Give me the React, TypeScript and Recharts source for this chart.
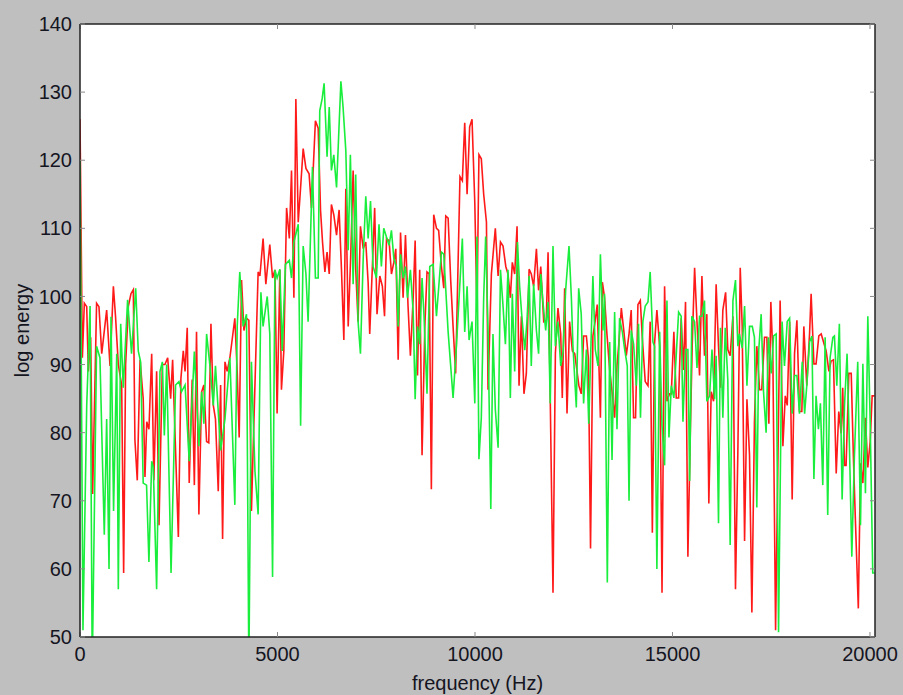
import { CartesianGrid, Line, LineChart, XAxis, YAxis } from "recharts"

// [frequency (Hz), log energy], vertex by vertex
const RED: [number, number][] = [
  [0, 126], [60, 91], [110, 99], [170, 98.5], [210, 89], [270, 94], [320, 71], [420, 99], [480, 98.5], [550, 91.6],
  [675, 98], [760, 89.8], [845, 101.5], [900, 97], [970, 90], [1055, 87], [1105, 59.4], [1155, 90], [1225, 98.6], [1290, 100.4],
  [1350, 101], [1390, 79], [1450, 73], [1520, 90.7], [1600, 85], [1645, 73.5], [1690, 81.6], [1745, 80.5], [1815, 91.6], [1870, 73],
  [1940, 89], [2000, 66.4], [2085, 90], [2150, 90], [2220, 91], [2295, 85], [2345, 90.7], [2490, 64.7], [2555, 88], [2615, 92],
  [2660, 89], [2715, 95.4], [2765, 72.6], [2840, 87.8], [2895, 72.3], [2950, 94.8], [3010, 68], [3080, 86], [3135, 87], [3205, 78.7],
  [3260, 78.5], [3315, 96], [3375, 84], [3430, 82], [3500, 71.4], [3560, 87], [3610, 64.4], [3670, 90.4], [3725, 89], [3795, 91],
  [3920, 96.8], [3980, 89], [4030, 79.3], [4090, 102.4], [4150, 95], [4215, 96.8], [4275, 96.5], [4340, 68.5], [4400, 81], [4510, 103.6],
  [4555, 103], [4635, 108.5], [4705, 101.8], [4805, 107.6], [4875, 102.7], [4935, 103.9], [4990, 82.8], [5060, 103.9], [5100, 86.3], [5160, 92],
  [5230, 113], [5300, 108.5], [5355, 118.5], [5415, 99.8], [5465, 129], [5525, 110.9], [5585, 116], [5650, 121.7], [5720, 118.8], [5800, 118],
  [5860, 113], [5960, 125.8], [6030, 124.7], [6090, 112.6], [6140, 108], [6200, 103.6], [6255, 106.5], [6310, 103.3], [6365, 113.5], [6425, 112],
  [6495, 109], [6560, 112.7], [6620, 103.9], [6680, 93.6], [6730, 115.8], [6790, 95.6], [6855, 106.2], [6915, 118.5], [6980, 104], [7040, 96.3],
  [7100, 110.3], [7170, 107], [7235, 108], [7295, 102], [7335, 94.5], [7460, 113], [7520, 97.4], [7590, 103], [7655, 101.5], [7710, 97.1],
  [7760, 108.5], [7825, 108.2], [7885, 103.3], [7945, 105], [7995, 107], [8055, 90.7], [8115, 109.4], [8180, 99.8], [8240, 109], [8305, 98.6],
  [8365, 91.3], [8435, 99.8], [8485, 108.2], [8545, 88.4], [8600, 103.9], [8660, 76.7], [8730, 95.6], [8785, 103.6], [8840, 103.3], [8895, 71.7],
  [8955, 112], [9025, 110], [9080, 109.7], [9150, 104.4], [9210, 101.2], [9260, 111.8], [9320, 111.5], [9385, 102.4], [9445, 95.6], [9510, 88.7],
  [9570, 104.4], [9620, 117.6], [9680, 117], [9740, 125.5], [9800, 115], [9865, 124.9], [9925, 126], [9995, 113.8], [10050, 97.7], [10100, 120.8],
  [10160, 120.2], [10220, 115], [10290, 110.9], [10330, 86.3], [10415, 103.3], [10515, 110], [10585, 103], [10645, 108], [10710, 107.4], [10780, 104.4],
  [10835, 103.3], [10895, 99.8], [10945, 105], [11005, 103.3], [11065, 110.3], [11115, 86.9], [11175, 97.1], [11240, 85.7], [11300, 88.7], [11370, 104],
  [11425, 103.3], [11485, 101.5], [11555, 107], [11610, 100.9], [11665, 104.4], [11740, 96.3], [11805, 96.5], [11850, 106.5], [11905, 85.1], [11975, 56.5],
  [12035, 91.6], [12100, 98.3], [12170, 94.5], [12210, 85.1], [12270, 101.2], [12330, 82.8], [12395, 96.3], [12465, 92], [12525, 91.6], [12565, 89.8],
  [12630, 86.9], [12690, 85.7], [12750, 94.2], [12820, 94.2], [12870, 91], [12925, 63], [12985, 94.2], [13045, 96.5], [13095, 98.8], [13175, 82.2],
  [13225, 102.1], [13280, 99.8], [13340, 94.5], [13410, 89.2], [13470, 86], [13535, 82.2], [13595, 89.8], [13645, 93.3], [13705, 98.3], [13765, 95.1],
  [13830, 91.3], [13900, 94.5], [13955, 98], [14015, 82.2], [14065, 82.2], [14125, 98.8], [14185, 99.4], [14235, 94], [14310, 87.5], [14380, 86.9],
  [14435, 96.3], [14490, 65.3], [14545, 93], [14605, 98], [14675, 92.7], [14735, 56.5], [14800, 101.5], [14860, 84.6], [14925, 85.7], [14970, 85.7],
  [15035, 94.8], [15095, 85.1], [15155, 85.1], [15220, 96.8], [15280, 89.2], [15330, 99.2], [15390, 61.8], [15450, 79.6], [15500, 93], [15560, 104.2],
  [15620, 96.3], [15685, 88.4], [15745, 103], [15810, 91.3], [15870, 97.4], [15920, 69.6], [15980, 86], [16040, 84.6], [16105, 101.8], [16165, 92.7],
  [16215, 86.6], [16275, 98], [16345, 100.6], [16400, 92.2], [16460, 91.3], [16530, 97.1], [16595, 57], [16655, 77.2], [16715, 104.2], [16765, 95.6],
  [16825, 64.1], [16885, 84.9], [16950, 76.7], [17010, 53.6], [17075, 81.6], [17135, 92.7], [17205, 86.3], [17260, 86.3], [17330, 94], [17390, 94],
  [17440, 81.3], [17490, 99.2], [17540, 91.6], [17610, 51], [17725, 99.4], [17795, 78], [17855, 85.4], [17905, 84], [17965, 96.3], [18030, 70.2],
  [18090, 91.6], [18150, 96.5], [18215, 83.1], [18275, 83.1], [18325, 95.6], [18400, 86.9], [18470, 94.5], [18510, 100.4], [18580, 90.1], [18635, 90.1],
  [18705, 94.2], [18765, 94.5], [18890, 92], [18960, 89], [19015, 90.5], [19075, 90.7], [19145, 74], [19210, 83.1], [19270, 79.9], [19310, 86.6],
  [19355, 75.2], [19395, 75.2], [19465, 88.7], [19525, 88.7], [19580, 76.4], [19630, 67.3], [19705, 54.2], [19760, 75.5], [19820, 72.6], [19885, 82.2],
  [19945, 74.9], [20005, 78.7], [20055, 85.4], [20115, 85.4],
]

const GREEN: [number, number][] = [
  [0, 120], [75, 51], [170, 84], [255, 98.6], [310, 45], [420, 92.7], [505, 91], [615, 65], [675, 82], [735, 60],
  [785, 97], [850, 68.5], [930, 91.6], [970, 57], [1030, 96], [1095, 86.6], [1205, 99.5], [1305, 91.6], [1410, 101.2], [1475, 92],
  [1535, 90.4], [1600, 72.6], [1685, 72.3], [1745, 61], [1815, 75.8], [1855, 75], [1940, 57], [2025, 89], [2085, 90.4], [2135, 79.6],
  [2195, 90], [2305, 59.4], [2420, 87], [2505, 87.5], [2570, 86], [2660, 87], [2765, 75.8], [2895, 91.9], [3010, 78], [3080, 86],
  [3135, 81.3], [3205, 94.5], [3290, 89.8], [3375, 84], [3430, 89.8], [3560, 77.4], [3670, 82], [3795, 91], [3920, 69.4], [3980, 95.6],
  [4045, 103.6], [4130, 95.6], [4215, 97.4], [4275, 45], [4340, 90.4], [4430, 74.3], [4510, 68], [4580, 100.6], [4635, 95.6], [4740, 100],
  [4805, 94.5], [4875, 58.8], [4935, 103.9], [4990, 102.7], [5060, 104], [5120, 92], [5200, 104.7], [5300, 105.3], [5355, 102.7], [5415, 108],
  [5525, 110.6], [5585, 81], [5650, 107.4], [5720, 103.3], [5775, 96.3], [5885, 119], [5960, 102.7], [6030, 102.7], [6070, 127.3], [6130, 129],
  [6180, 131.3], [6255, 120.5], [6310, 127.8], [6365, 118.5], [6425, 120.8], [6495, 116], [6605, 131.6], [6660, 127.8], [6730, 121.4], [6790, 106.8],
  [6845, 120.8], [6915, 101.8], [6980, 117.9], [7040, 96.3], [7100, 91.6], [7170, 105.6], [7235, 114.7], [7295, 108.5], [7355, 114], [7420, 104.4],
  [7505, 102.7], [7570, 110.6], [7630, 104.4], [7690, 110], [7755, 108.8], [7825, 107.5], [7885, 109.7], [7945, 105.6], [8010, 104.4], [8055, 95.6],
  [8115, 106.2], [8180, 102.7], [8240, 104.4], [8290, 99.8], [8365, 103.9], [8435, 97.7], [8485, 84.9], [8545, 95.6], [8600, 93], [8660, 102.7],
  [8710, 97.1], [8785, 85.7], [8855, 104.4], [8940, 104.7], [9025, 97.1], [9150, 106.5], [9210, 106.2], [9320, 94.8], [9445, 85.1], [9530, 92.7],
  [9680, 108.5], [9740, 94.8], [9800, 101.5], [9850, 93.6], [9925, 96.3], [9995, 84.3], [10050, 108.8], [10100, 76.1], [10160, 82.2], [10220, 99.8],
  [10270, 108.8], [10330, 95], [10400, 68.8], [10455, 94.5], [10515, 83.4], [10585, 77.8], [10645, 103.9], [10710, 98.6], [10770, 93], [10835, 103.9],
  [10895, 85.1], [10945, 100.4], [11005, 89], [11075, 108], [11130, 101.5], [11190, 96.8], [11260, 92.1], [11315, 96.3], [11370, 103], [11425, 89.8],
  [11485, 101.8], [11555, 95], [11610, 91.6], [11665, 103.3], [11720, 99.2], [11790, 95], [11850, 99.2], [11905, 84.3], [11975, 107.4], [12035, 92.7],
  [12100, 96.3], [12170, 89.8], [12230, 91.9], [12295, 100.9], [12380, 107.4], [12440, 99.8], [12480, 92.7], [12565, 83.7], [12625, 101.2], [12690, 97.4],
  [12750, 84.3], [12820, 92.2], [12880, 81.3], [12985, 103], [13045, 92.2], [13115, 89.8], [13175, 106.2], [13240, 95], [13280, 100.4], [13350, 58],
  [13410, 93.3], [13470, 76], [13535, 97.7], [13595, 80.5], [13660, 96.8], [13730, 94.8], [13790, 92.2], [13855, 89.8], [13900, 70], [13955, 95],
  [14015, 93], [14085, 86.9], [14140, 96], [14190, 82.2], [14250, 96.3], [14310, 98.6], [14380, 99.2], [14435, 103.6], [14505, 93.3], [14545, 92.7],
  [14605, 60], [14675, 94.8], [14735, 81], [14800, 75.2], [14860, 99.4], [14910, 79.3], [14970, 86.9], [15035, 85.1], [15155, 97.7], [15220, 97.1],
  [15265, 81.6], [15330, 92.2], [15390, 92.2], [15435, 72.9], [15490, 97.1], [15560, 96.3], [15620, 89.5], [15685, 97.1], [15745, 97.1], [15810, 99.4],
  [15870, 84.6], [15940, 85.4], [16000, 92.2], [16065, 84.9], [16105, 91.3], [16165, 66.7], [16215, 95.4], [16275, 82.2], [16335, 95.4], [16400, 87.8],
  [16460, 63.5], [16530, 99.4], [16595, 102.4], [16655, 92.7], [16695, 94.5], [16765, 92.4], [16825, 98.6], [16885, 86.9], [16950, 95.6], [17020, 95.6],
  [17075, 94], [17135, 69], [17185, 92.2], [17245, 97.4], [17305, 86], [17370, 80], [17430, 94], [17500, 88.7], [17560, 94.2], [17625, 94.5],
  [17685, 50.7], [17775, 96.3], [17835, 89.8], [17905, 96.3], [17965, 96.8], [18030, 82.8], [18090, 88.4], [18150, 88.4], [18215, 82.8], [18285, 90.4],
  [18345, 82.8], [18400, 86.9], [18470, 93.3], [18530, 94.2], [18580, 73.2], [18635, 85.4], [18695, 80.5], [18745, 84.3], [18805, 72.3], [18865, 94],
  [18930, 67.9], [18990, 91], [19060, 94], [19100, 94.2], [19160, 86.9], [19225, 96], [19295, 70.2], [19355, 84], [19420, 91.6], [19480, 78],
  [19540, 61.8], [19605, 76.4], [19690, 90.4], [19760, 66.4], [19820, 90.1], [19885, 71.1], [19945, 97.1], [20005, 81.6], [20070, 59.4], [20115, 59.4],
]

const X_TICKS = [0, 5000, 10000, 15000, 20000]
const Y_TICKS = [50, 60, 70, 80, 90, 100, 110, 120, 130, 140]

const redData = RED.map(([freq, energy]) => ({ freq, energy }))
const greenData = GREEN.map(([freq, energy]) => ({ freq, energy }))

const FONT = "'Liberation Sans', Arial, Helvetica, sans-serif"
const tickStyle = { fill: "#15151f", fontSize: 20, fontFamily: FONT }
const tickLine = { stroke: "#8a8a8a" }
const axisLine = { stroke: "#222", strokeWidth: 1.5 }
const X_DOMAIN: [number, number] = [0, 20127]
const Y_DOMAIN: [number, number] = [50, 140]

export default function App() {
  return (
    <div
      style={{
        position: "absolute",
        left: 0,
        top: 0,
        width: 903,
        height: 695,
        background: "#bfbfbf",
      }}
    >
      <LineChart width={903} height={695} margin={{ top: 23, right: 27, left: 0, bottom: 0 }}>
        <CartesianGrid horizontal={false} vertical={false} fill="#ffffff" />
        <XAxis
          dataKey="freq"
          type="number"
          domain={X_DOMAIN}
          ticks={X_TICKS}
          allowDataOverflow
          height={58}
          tickSize={-5}
          tickMargin={15}
          tick={tickStyle}
          tickLine={tickLine}
          axisLine={axisLine}
          label={{
            value: "frequency (Hz)",
            position: "insideBottom",
            offset: 5,
            style: { fill: "#15151f", fontSize: 20, fontFamily: FONT },
          }}
        />
        <XAxis
          xAxisId="top"
          orientation="top"
          dataKey="freq"
          type="number"
          domain={X_DOMAIN}
          ticks={X_TICKS}
          allowDataOverflow
          height={1}
          tickSize={-5}
          tickFormatter={() => ""}
          tickLine={tickLine}
          axisLine={axisLine}
        />
        <YAxis
          type="number"
          domain={Y_DOMAIN}
          ticks={Y_TICKS}
          allowDataOverflow
          width={80}
          tickSize={-5}
          tickMargin={13}
          tick={tickStyle}
          tickLine={tickLine}
          axisLine={axisLine}
          label={{
            value: "log energy",
            angle: -90,
            position: "insideLeft",
            offset: 22,
            style: { textAnchor: "middle", fill: "#15151f", fontSize: 20, fontFamily: FONT },
          }}
        />
        <YAxis
          yAxisId="right"
          orientation="right"
          type="number"
          domain={Y_DOMAIN}
          ticks={Y_TICKS}
          allowDataOverflow
          width={1}
          tickSize={-5}
          tickFormatter={() => ""}
          tickLine={tickLine}
          axisLine={axisLine}
        />
        <Line
          data={redData}
          dataKey="energy"
          type="linear"
          stroke="#ff1a1a"
          strokeWidth={1.6}
          dot={false}
          isAnimationActive={false}
        />
        <Line
          data={greenData}
          dataKey="energy"
          type="linear"
          stroke="#1aee3c"
          strokeWidth={1.6}
          dot={false}
          isAnimationActive={false}
        />
      </LineChart>
    </div>
  )
}
